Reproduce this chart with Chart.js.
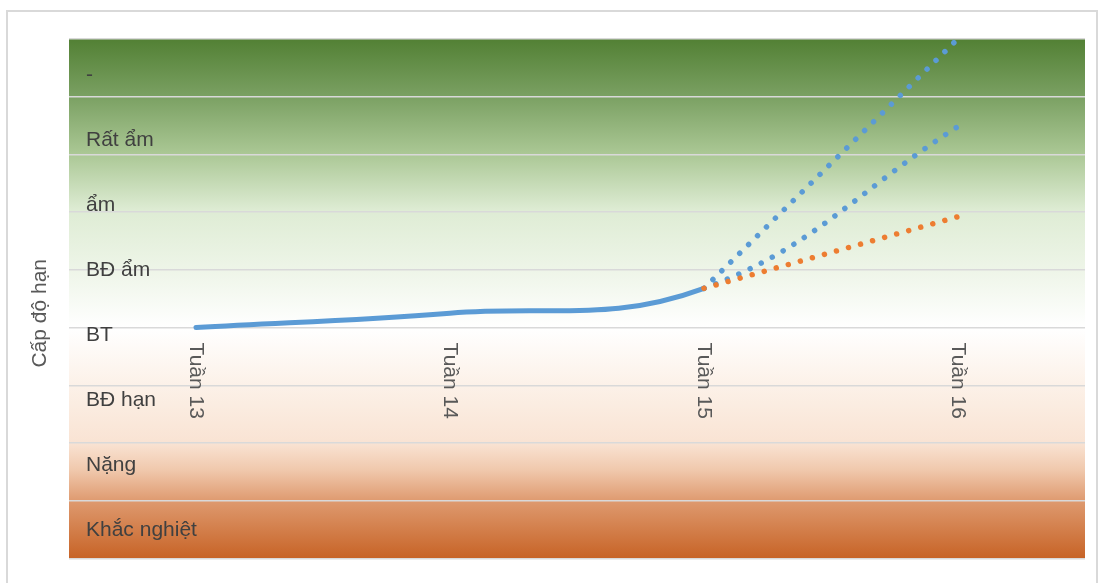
<!DOCTYPE html>
<html>
<head>
<meta charset="utf-8">
<script src="https://cdn.jsdelivr.net/npm/chart.js@4"></script>
<style>
  html, body { margin: 0; padding: 0; background: #fff; }
  #wrap { width: 1100px; height: 583px; position: relative; }
</style>
</head>
<body>
<div id="wrap"><canvas id="droughtChart"></canvas></div>
<script>
// Cấp độ hạn theo tuần - data
const weeks = ['Tuần 13', 'Tuần 14', 'Tuần 15', 'Tuần 16'];
const levelLabels = ['-', 'Rất ẩm', 'ẩm', 'BĐ ẩm', 'BT', 'BĐ hạn', 'Nặng', 'Khắc nghiệt'];
// observed up to Tuần 15, the last segment continues as the middle forecast
const observed = [0, 0.25, 0.68, 3.48];
const forecastHigh = [null, null, 0.68, 5.0];
const forecastLow = [null, null, 0.68, 1.92];
const yMin = -4;
const yMax = 5;

const FONT = '"Liberation Sans", Arial, sans-serif';
const DOTS = [0.01, 12.5];
const LABEL_TOP = 7.44; // level labels sit a little below the band centres

// green above BT, orange below
const backgroundPlugin = {
    id: 'bandBackground',
    beforeDraw(chart) {
        const { ctx, chartArea: a } = chart;
        ctx.save();
        ctx.strokeStyle = '#d9d9d9';
        ctx.lineWidth = 2;
        ctx.strokeRect(7, 11, 1090, 600);

        const g = ctx.createLinearGradient(0, a.top, 0, a.bottom);
        g.addColorStop(0.00, 'rgb(82,128,52)');
        g.addColorStop(0.11, 'rgb(122,160,98)');
        g.addColorStop(0.22, 'rgb(170,199,148)');
        g.addColorStop(0.33, 'rgb(222,236,212)');
        g.addColorStop(0.445, 'rgb(238,245,232)');
        g.addColorStop(0.556, 'rgb(255,255,255)');
        g.addColorStop(0.667, 'rgb(252,241,232)');
        g.addColorStop(0.778, 'rgb(249,227,211)');
        g.addColorStop(0.83, 'rgb(240,200,172)');
        g.addColorStop(0.89, 'rgb(222,153,110)');
        g.addColorStop(1.00, 'rgb(199,99,38)');
        ctx.fillStyle = g;
        ctx.fillRect(a.left, a.top, a.right - a.left, a.bottom - a.top);
        ctx.restore();
    }
};

// week labels hang down from the BT line, rotated clockwise
const weekLabelPlugin = {
    id: 'weekLabels',
    afterDatasetsDraw(chart) {
        const { ctx } = chart;
        const xs = chart.scales.x;
        const ys = chart.scales.y;
        const y0 = ys.getPixelForValue(0) + 15;
        ctx.save();
        ctx.font = '21px ' + FONT;
        ctx.fillStyle = '#595959';
        ctx.textAlign = 'left';
        ctx.textBaseline = 'middle';
        weeks.forEach((w, i) => {
            ctx.save();
            ctx.translate(xs.getPixelForValue(i), y0);
            ctx.rotate(Math.PI / 2);
            ctx.fillText(w, 0, 0);
            ctx.restore();
        });
        ctx.restore();
    }
};

function dotted(data, color) {
    return {
        data: data,
        borderColor: color,
        borderWidth: 5.5,
        borderDash: DOTS,
        borderCapStyle: 'round',
        pointRadius: 0,
        tension: 0,
        fill: false
    };
}

new Chart(document.getElementById('droughtChart'), {
    type: 'line',
    data: {
        labels: weeks,
        datasets: [
            dotted(forecastLow, '#ed7d31'),
            {
                data: observed,
                borderColor: '#5b9bd5',
                borderWidth: 5,
                borderCapStyle: 'round',
                pointRadius: 0,
                tension: 0.4,
                fill: false,
                segment: {
                    borderDash: (c) => c.p1DataIndex === 3 ? DOTS : undefined,
                    borderWidth: (c) => c.p1DataIndex === 3 ? 5.5 : undefined
                }
            },
            dotted(forecastHigh, '#5b9bd5')
        ]
    },
    options: {
        responsive: true,
        maintainAspectRatio: false,
        animation: false,
        layout: {
            padding: { left: 23.4, top: 38.7, right: 15, bottom: 24.3 }
        },
        plugins: {
            legend: { display: false },
            tooltip: { enabled: false }
        },
        scales: {
            x: {
                type: 'category',
                offset: true,
                display: false
            },
            y: {
                min: yMin,
                max: yMax,
                position: 'left',
                weight: 1,
                afterFit: (scale) => { scale.width = 45.6; },
                ticks: { display: false, stepSize: 1 },
                grid: { color: '#d9d9d9', lineWidth: 1.5, drawTicks: false },
                border: { display: false },
                title: {
                    display: true,
                    text: 'Cấp độ hạn\u00a0\u00a0\u00a0\u00a0\u00a0',
                    color: '#595959',
                    font: { family: FONT, size: 21 },
                    padding: { top: 4, bottom: 16.4 }
                }
            },
            yLevel: {
                type: 'linear',
                min: 0,
                max: 8,
                position: 'left',
                weight: 0,
                afterBuildTicks: (scale) => {
                    scale.ticks = levelLabels.map((_, i) => ({ value: LABEL_TOP - i }));
                },
                afterFit: (scale) => {
                    scale.width = 0;
                    scale.paddingTop = 0;
                    scale.paddingBottom = 0;
                },
                ticks: {
                    mirror: true,
                    padding: 17,
                    autoSkip: false,
                    color: '#404040',
                    font: { family: FONT, size: 21 },
                    callback: (v) => levelLabels[Math.round(LABEL_TOP - v)]
                },
                grid: { display: false, drawTicks: false },
                border: { display: false }
            }
        }
    },
    plugins: [backgroundPlugin, weekLabelPlugin]
});
</script>
</body>
</html>
